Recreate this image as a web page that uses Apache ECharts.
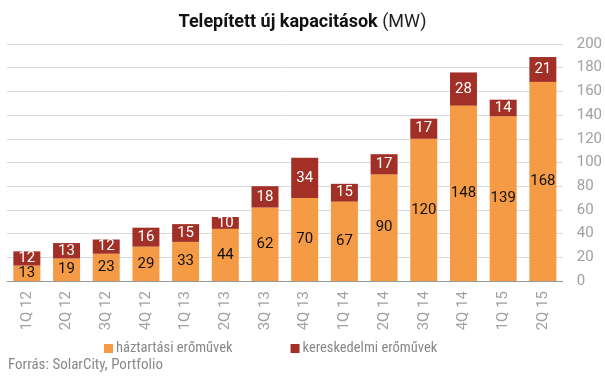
<!DOCTYPE html>
<html><head><meta charset="utf-8">
<script src="https://cdn.jsdelivr.net/npm/echarts@6/dist/echarts.min.js"></script>
<style>html,body{margin:0;padding:0;background:#fff}#c{width:605px;height:379px}</style>
</head><body><div id="c"></div>
<script>
const categories = ['1Q 12','2Q 12','3Q 12','4Q 12','1Q 13','2Q 13','3Q 13','4Q 13','1Q 14','2Q 14','3Q 14','4Q 14','1Q 15','2Q 15'];
const household = [13,19,23,29,33,44,62,70,67,90,120,148,139,168];
const commercial = [12,13,12,16,15,10,18,34,15,17,17,28,14,21];
const seriesNames = ['háztartási erőművek','kereskedelmi erőművek'];
const yTicks = {min:0, max:200, interval:20};

const chart = echarts.init(document.getElementById('c'));
const FONT = 'Roboto';
const COND = 'Roboto Condensed';
chart.setOption({
  animation:false,
  textStyle:{fontFamily:FONT},
  title:{
    text:'{b|Telepített új kapacitások} {n|(MW)}',
    left:'center', top:8,
    textStyle:{rich:{
      b:{fontFamily:FONT,fontWeight:'bold',fontSize:18,color:'#111'},
      n:{fontFamily:FONT,fontWeight:'normal',fontSize:18,color:'#222'}
    }}
  },
  graphic:[{type:'text',left:8,top:358,style:{text:'Forrás: SolarCity, Portfolio',font:'15px "Roboto Condensed"',fill:'#888'}}],
  legend:{
    data:seriesNames, left:99, top:336, itemWidth:9, itemHeight:9, itemGap:58,
    icon:'rect',
    textStyle:{fontFamily:COND,fontSize:14.5,color:'#888',padding:[0,0,0,-2]}
  },
  grid:{left:7,right:42,top:44,bottom:98,containLabel:false},
  xAxis:{
    type:'category', data:categories,
    axisLine:{lineStyle:{color:'#999'}}, axisTick:{show:false},
    axisLabel:{rotate:90,color:'#a0a0a0',fontSize:15,fontFamily:FONT,margin:10,interval:0}
  },
  yAxis:{
    type:'value', position:'right', min:yTicks.min, max:yTicks.max, interval:yTicks.interval,
    axisLine:{show:false}, axisTick:{show:false},
    splitLine:{lineStyle:{color:'#d9d9d9'}},
    axisLabel:{color:'#a0a0a0',fontSize:15,fontFamily:FONT,margin:14}
  },
  series:[
    {name:seriesNames[0],type:'bar',stack:'a',data:household,barWidth:'68%',
     itemStyle:{color:'#F59A45'},
     label:{show:true,position:'inside',color:'#111',fontSize:15,fontFamily:FONT}},
    {name:seriesNames[1],type:'bar',stack:'a',data:commercial,barWidth:'68%',
     itemStyle:{color:'#A23026'},
     label:{show:true,position:'inside',color:'#fff',fontSize:15,fontFamily:FONT}}
  ]
});
</script></body></html>
